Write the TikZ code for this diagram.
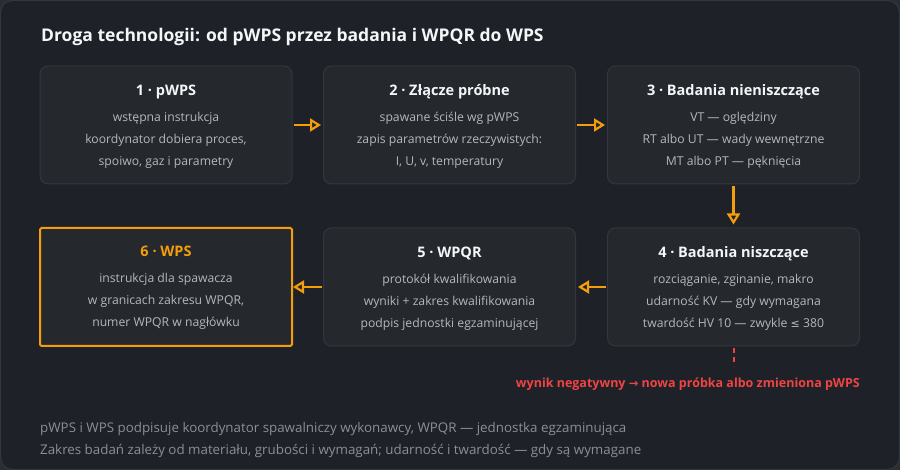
\documentclass[tikz,border=0pt]{standalone}
\usepackage{fontspec}
\setmainfont{Open Sans}
\usetikzlibrary{arrows.meta,calc}
\definecolor{outerbg}{HTML}{2A2D33}
\definecolor{panelbg}{HTML}{1E2127}
\definecolor{panelline}{HTML}{33363C}
\definecolor{boxbg}{HTML}{25282D}
\definecolor{boxline}{HTML}{33363C}
\definecolor{orangeA}{HTML}{F59E0B}
\definecolor{redA}{HTML}{EF4444}
\definecolor{ttlcol}{HTML}{F5F6F8}
\definecolor{txtcol}{HTML}{B4B8BF}
\definecolor{footcol}{HTML}{8A8F98}
\tikzset{
  stepbox/.style={draw=boxline, line width=1pt, fill=boxbg, rounded corners=8pt,
    minimum width=252pt, minimum height=118pt, inner sep=0pt},
  finalbox/.style={draw=orangeA, line width=2pt, fill=boxbg, rounded corners=1.5pt,
    minimum width=252pt, minimum height=118pt, inner sep=0pt},
  boxttl/.style={anchor=base, inner sep=0pt, text=ttlcol, font=\fontsize{14.5}{17}\selectfont\bfseries},
  boxtxt/.style={anchor=base, inner sep=0pt, text=txtcol, font=\fontsize{12.2}{15}\selectfont},
  flow/.style={draw=orangeA, line width=2.6pt, -{Triangle[open, length=11pt, width=13pt, line width=2.2pt]}},
  negline/.style={draw=redA, line width=2pt, dash pattern=on 5pt off 4pt},
  foot/.style={anchor=base west, inner sep=0pt, text=footcol, font=\fontsize{13.35}{16}\selectfont},
}
\begin{document}
\begin{tikzpicture}[x=1pt,y=-1pt]
\useasboundingbox (0,0) rectangle (900,470);
\fill[outerbg] (0,0) rectangle (900,470);
\draw[panelline, fill=panelbg, line width=1pt, rounded corners=12pt] (0.5,0.5) rectangle (899.5,469.5);

\node[anchor=base west, inner sep=0pt, text=ttlcol, font=\fontsize{17.5}{20}\selectfont\bfseries] (title) at (41,42) {Droga technologii: od pWPS przez badania i WPQR do WPS};

% boxes
\node[stepbox] (b1) at (166,125) {};
\node[stepbox] (b2) at (449.5,125) {};
\node[stepbox] (b3) at (733.5,125) {};
\node[stepbox] (b4) at (733.5,287) {};
\node[stepbox] (b5) at (449.5,287) {};
\node[finalbox] (b6) at (166,287) {};

% box texts
\node[boxttl] (t1) at ($(b1.north)+(0,30)$) {1 · pWPS};
\node[boxtxt] (l1a) at ($(b1.north)+(0,56)$) {wstępna instrukcja};
\node[boxtxt] (l1b) at ($(b1.north)+(0,78)$) {koordynator dobiera proces,};
\node[boxtxt] (l1c) at ($(b1.north)+(0,100)$) {spoiwo, gaz i parametry};

\node[boxttl] (t2) at ($(b2.north)+(0,30)$) {2 · Złącze próbne};
\node[boxtxt] (l2a) at ($(b2.north)+(0,56)$) {spawane ściśle wg pWPS};
\node[boxtxt] (l2b) at ($(b2.north)+(0,78)$) {zapis parametrów rzeczywistych:};
\node[boxtxt] (l2c) at ($(b2.north)+(0,100)$) {I, U, v, temperatury};

\node[boxttl] (t3) at ($(b3.north)+(0,30)$) {3 · Badania nieniszczące};
\node[boxtxt] (l3a) at ($(b3.north)+(0,56)$) {VT — oględziny};
\node[boxtxt] (l3b) at ($(b3.north)+(0,78)$) {RT albo UT — wady wewnętrzne};
\node[boxtxt] (l3c) at ($(b3.north)+(0,100)$) {MT albo PT — pęknięcia};

\node[boxttl] (t4) at ($(b4.north)+(0,30)$) {4 · Badania niszczące};
\node[boxtxt] (l4a) at ($(b4.north)+(0,56)$) {rozciąganie, zginanie, makro};
\node[boxtxt] (l4b) at ($(b4.north)+(0,78)$) {udarność KV — gdy wymagana};
\node[boxtxt] (l4c) at ($(b4.north)+(0,100)$) {twardość HV 10 — zwykle {\fontspec{DejaVu Sans}\fontsize{11}{14}\selectfont ≤} 380};

\node[boxttl] (t5) at ($(b5.north)+(0,30)$) {5 · WPQR};
\node[boxtxt] (l5a) at ($(b5.north)+(0,56)$) {protokół kwalifikowania};
\node[boxtxt] (l5b) at ($(b5.north)+(0,78)$) {wyniki + zakres kwalifikowania};
\node[boxtxt] (l5c) at ($(b5.north)+(0,100)$) {podpis jednostki egzaminującej};

\node[boxttl, text=orangeA] (t6) at ($(b6.north)+(0,30)$) {6 · WPS};
\node[boxtxt] (l6a) at ($(b6.north)+(0,56)$) {instrukcja dla spawacza};
\node[boxtxt] (l6b) at ($(b6.north)+(0,78)$) {w granicach zakresu WPQR,};
\node[boxtxt] (l6c) at ($(b6.north)+(0,100)$) {numer WPQR w nagłówku};

% flow arrows
\draw[flow] ($(b1.east)+(1,0)$) -- ($(b2.west)+(-2,0)$);
\draw[flow] ($(b2.east)+(1,0)$) -- ($(b3.west)+(-2,0)$);
\draw[flow] ($(b3.south)+(0,2)$) -- ($(b4.north)+(0,-3)$);
\draw[flow] ($(b4.west)+(-1,0)$) -- ($(b5.east)+(2,0)$);
\draw[flow] ($(b5.west)+(-1,0)$) -- ($(b6.west)+(254,0)$);

% negative result
\coordinate (negend) at ($(b4.south)+(0,20)$);
\draw[negline] ($(b4.south)+(0,2)$) -- (negend);
\node[anchor=base east, inner sep=0pt, text=redA, font=\fontsize{12.5}{15}\selectfont\bfseries] (neg) at ($(b4.south east)+(0,41)$) {wynik negatywny {\fontspec{DejaVu Sans}\bfseries\fontsize{11.5}{14}\selectfont →} nowa próbka albo zmieniona pWPS};

% footer
\node[foot] (f1) at (40,432) {pWPS i WPS podpisuje koordynator spawalniczy wykonawcy, WPQR — jednostka egzaminująca};
\node[foot] (f2) at (40,454) {Zakres badań zależy od materiału, grubości i wymagań; udarność i twardość — gdy są wymagane};
\end{tikzpicture}
\end{document}
